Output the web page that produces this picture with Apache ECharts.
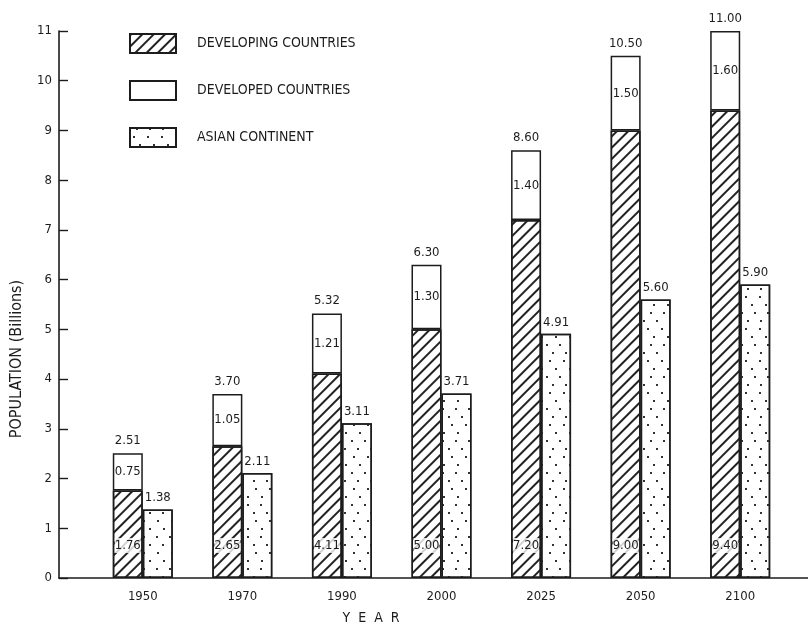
<!DOCTYPE html>
<html><head><meta charset="utf-8">
<script src="https://cdn.jsdelivr.net/npm/echarts@6/dist/echarts.min.js"></script>
<style>html,body{margin:0;padding:0;background:#fff}#c{width:808px;height:628px}</style>
</head><body><div id="c"></div>
<script>
var years = ['1950','1970','1990','2000','2025','2050','2100'];
var developing = [1.76, 2.65, 4.11, 5.00, 7.20, 9.00, 9.40];
var developed = [0.75, 1.05, 1.21, 1.30, 1.40, 1.50, 1.60];
var asian = [1.38, 2.11, 3.11, 3.71, 4.91, 5.60, 5.90];
var totals = [2.51, 3.70, 5.32, 6.30, 8.60, 10.50, 11.00];
var yTicks = [0,1,2,3,4,5,6,7,8,9,10,11];

var INK = '#1c1c1c';
var FONT = 'DejaVu Sans Condensed';
var chart = echarts.init(document.getElementById('c'));
var hatch = {symbol:'rect', symbolSize:1, color:'#222', dashArrayX:[1,0], dashArrayY:[1.3,5.2], rotation:-Math.PI/4};
var dots = {symbol:'rect', symbolSize:1, color:'#333',
  dashArrayX:[[1.3,10.7],[0,6,1.3,4.7],[0,2.5,1.3,8.2],[0,8.5,1.3,2.2]], dashArrayY:[1.3,5.4], rotation:0};
var zeros = totals.map(function(){return 0;});

chart.setOption({
  animation:false,
  backgroundColor:'#fff',
  textStyle:{fontFamily:FONT, color:INK},
  grid:[
    {left:59, right:0, top:31, bottom:50},
    {left:93, right:18, top:31, bottom:50}
  ],
  legend:{
    data:['DEVELOPING COUNTRIES','DEVELOPED COUNTRIES','ASIAN CONTINENT'],
    orient:'vertical', left:129, top:33, padding:0, itemWidth:46, itemHeight:19, itemGap:26,
    icon:'rect', selectedMode:false,
    textStyle:{fontFamily:FONT, fontSize:14, color:INK, padding:[0,0,0,16]}
  },
  xAxis:[
    {gridIndex:0, type:'value', min:0, max:1, axisLine:{show:true, lineStyle:{color:INK, width:1.6}},
     axisTick:{show:false}, axisLabel:{show:false}, splitLine:{show:false}},
    {gridIndex:1, type:'category', data:years, axisLine:{show:false}, axisTick:{show:false},
     axisLabel:{fontFamily:FONT, fontSize:13, color:INK, margin:12}}
  ],
  yAxis:[
    {gridIndex:0, type:'value', min:0, max:11, interval:1,
     axisLine:{show:true, lineStyle:{color:INK, width:1.6}},
     axisTick:{show:true, inside:true, length:9, lineStyle:{color:INK, width:1.4}},
     axisLabel:{fontFamily:FONT, fontSize:13, color:INK, margin:7, formatter:function(v){return yTicks.indexOf(v)>=0?String(v):'';}},
     splitLine:{show:false}},
    {gridIndex:1, type:'value', min:0, max:11, show:false}
  ],
  graphic:[
    {type:'text', x:17, y:359, rotation:Math.PI/2,
     style:{text:'POPULATION (Billions)', font:'16px "'+FONT+'"', fill:INK, align:'center', verticalAlign:'middle'}},
    {type:'text', x:371, y:618,
     style:{text:'Y  E  A  R', font:'14px "'+FONT+'"', fill:INK, align:'center', verticalAlign:'middle'}}
  ],
  series:[
    {name:'DEVELOPING COUNTRIES', type:'bar', xAxisIndex:1, yAxisIndex:1, stack:'w', data:developing,
     barWidth:30, barGap:'0%',
     itemStyle:{color:'#fff', borderColor:INK, borderWidth:1.5, decal:hatch},
     label:{show:true, position:'insideBottom', distance:25, fontFamily:FONT, fontSize:13, color:INK,
       backgroundColor:'rgba(255,255,255,0.8)', padding:[1,0],
       formatter:function(p){return p.value.toFixed(2);}}},
    {name:'DEVELOPED COUNTRIES', type:'bar', xAxisIndex:1, yAxisIndex:1, stack:'w', data:developed,
     barWidth:30, barGap:'0%',
     itemStyle:{color:'#fff', borderColor:INK, borderWidth:1.5},
     label:{show:true, position:'inside', fontFamily:FONT, fontSize:13, color:INK,
       formatter:function(p){return p.value.toFixed(2);}}},
    {name:'total', type:'bar', xAxisIndex:1, yAxisIndex:1, stack:'w', data:zeros,
     barWidth:30, barGap:'0%', silent:true,
     itemStyle:{color:'transparent', borderWidth:0},
     label:{show:true, position:'top', distance:6, fontFamily:FONT, fontSize:13, color:INK,
       formatter:function(p){return totals[p.dataIndex].toFixed(2);}}},
    {name:'ASIAN CONTINENT', type:'bar', xAxisIndex:1, yAxisIndex:1, data:asian,
     barWidth:30, barGap:'0%',
     itemStyle:{color:'#fff', borderColor:INK, borderWidth:1.5, decal:dots},
     label:{show:true, position:'top', distance:5, fontFamily:FONT, fontSize:13, color:INK,
       formatter:function(p){return p.value.toFixed(2);}}}
  ]
});
</script></body></html>
